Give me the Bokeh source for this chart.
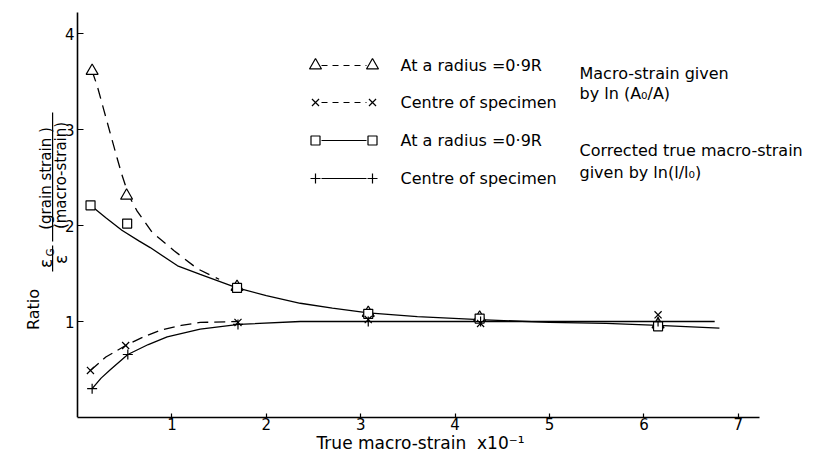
from math import pi
from bokeh.plotting import figure
from bokeh.models import Range1d, FixedTicker, Label, BoxAnnotation
from bokeh.embed import file_html
from bokeh.resources import INLINE

# ---------------- data ----------------
x_ticks = [1, 2, 3, 4, 5, 6, 7]
x_tick_labels = ["1", "2", "3", "4", "5", "6", "7"]
y_ticks = [1, 2, 3, 4]
y_tick_labels = ["1", "2", "3", "4"]

# measured points
tri_x = [0.155, 0.52, 1.69, 3.08, 4.26, 6.15]
tri_y = [3.61, 2.31, 1.36, 1.09, 1.04, 0.97]
crs_x = [0.137, 0.51, 1.70, 3.08, 4.27, 6.15]
crs_y = [0.49, 0.75, 0.99, 1.02, 0.98, 1.07]
sq_x = [0.138, 0.526, 1.69, 3.08, 4.26, 6.15]
sq_y = [2.21, 2.02, 1.35, 1.08, 1.03, 0.95]
pl_x = [0.155, 0.533, 1.70, 3.08, 4.27, 6.15]
pl_y = [0.30, 0.656, 0.97, 1.00, 1.00, 1.00]

# fitted curves
tri_curve_x = [0.155, 0.21, 0.28, 0.35, 0.42, 0.47, 0.544, 0.632, 0.79, 1.02, 1.27, 1.5]
tri_curve_y = [3.61, 3.45, 3.20, 2.95, 2.70, 2.53, 2.31, 2.15, 1.93, 1.74, 1.55, 1.44]
crs_curve_x = [0.137, 0.3, 0.51, 0.7, 0.88, 1.1, 1.3, 1.7]
crs_curve_y = [0.49, 0.63, 0.75, 0.84, 0.91, 0.96, 0.99, 1.0]
sq_curve_x = [0.138, 0.3, 0.47, 0.65, 0.77, 1.06, 1.3, 1.69, 2.0, 2.36, 2.7, 3.08,
              3.6, 4.26, 5.0, 5.6, 6.15, 6.8]
sq_curve_y = [2.21, 2.08, 1.95, 1.84, 1.77, 1.58, 1.49, 1.35, 1.27, 1.19, 1.14, 1.09,
              1.05, 1.02, 0.99, 0.98, 0.96, 0.93]
pl_curve_x = [0.155, 0.25, 0.35, 0.533, 0.75, 0.95, 1.3, 1.71, 2.36, 3.08, 4.26, 5.5, 6.75]
pl_curve_y = [0.30, 0.41, 0.50, 0.656, 0.76, 0.84, 0.92, 0.97, 1.0, 1.0, 1.0, 1.0, 1.0]

legend_labels = ["At a radius =0·9R", "Centre of specimen",
                 "At a radius =0·9R", "Centre of specimen"]
group_notes = [["Macro-strain given", "by ln (A₀/A)"],
               ["Corrected true macro-strain", "given by ln(l/l₀)"]]
x_label = "True macro-strain\u00a0\u00a0x10⁻¹"

# ---------------- figure ----------------
FONT = "DejaVu Sans"
XPX, YPX = 94.4, 96.0
X0_PX, Y0_PX = 77, 417          # page position of the data origin
LEFT, TOP = 20, 11              # frame left / top on the page
FW, FH = 800, Y0_PX - TOP

x_start = -(X0_PX - LEFT) / XPX
p = figure(frame_width=FW, frame_height=FH,
           x_range=Range1d(x_start, x_start + FW / XPX), y_range=Range1d(0, FH / YPX),
           min_border_left=LEFT, min_border_right=2, min_border_top=TOP, min_border_bottom=0,
           output_backend="svg", toolbar_location=None)
p.grid.visible = False
p.outline_line_color = None
p.background_fill_color = "white"
p.border_fill_color = "white"

for ax, ticks, labels in ((p.xaxis[0], x_ticks, x_tick_labels), (p.yaxis[0], y_ticks, y_tick_labels)):
    ax.ticker = FixedTicker(ticks=ticks)
    ax.major_label_overrides = {t: l for t, l in zip(ticks, labels)}
    ax.minor_tick_line_color = None
    ax.major_tick_out = 0
    ax.axis_line_color = "black"
    ax.axis_line_width = 1.6
    ax.major_tick_line_color = "black"
    ax.major_tick_line_width = 1.2
    ax.major_label_text_font = FONT
    ax.major_label_text_font_size = "15px"
    ax.major_label_text_color = "black"

p.yaxis.fixed_location = 0
p.xaxis.bounds = (0, 7.22)
p.yaxis.bounds = (0, 4.22)
p.xaxis.major_tick_in = 4
p.yaxis.major_tick_in = 6
p.xaxis.major_label_standoff = 0
p.yaxis.major_label_standoff = 3
p.xaxis.axis_label = x_label
p.xaxis.axis_label_text_font = FONT
p.xaxis.axis_label_text_font_size = "17px"
p.xaxis.axis_label_text_font_style = "normal"
p.xaxis.axis_label_text_color = "black"
p.xaxis.axis_label_standoff = 0

LW = 1.3
# curves
p.line(tri_curve_x, tri_curve_y, line_color="black", line_width=LW, line_dash="11 7")
p.line(crs_curve_x, crs_curve_y, line_color="black", line_width=LW, line_dash="11 6")
p.line(sq_curve_x, sq_curve_y, line_color="black", line_width=LW)
p.line(pl_curve_x, pl_curve_y, line_color="black", line_width=LW)

# markers
p.scatter(tri_x, tri_y, marker="triangle", size=12, fill_color="white", line_color="black", line_width=1.2)
p.scatter(sq_x, sq_y, marker="square", size=9, fill_color="white", line_color="black", line_width=1.2)
p.scatter(crs_x, crs_y, marker="x", size=10, line_color="black", line_width=1.2)
p.scatter(pl_x, pl_y, marker="cross", size=10, line_color="black", line_width=1.2)

# ---------------- legend (drawn) ----------------
def dx(px):
    return (px - X0_PX) / XPX

def dy(py):
    return (Y0_PX - py) / YPX

rows_py = [65, 102, 140, 178]
markers = ["triangle", "x", "square", "cross"]
msize = [12, 10, 9, 10]
dashes = ["6 5", "6 5", "solid", "solid"]
for i, py in enumerate(rows_py):
    yy = dy(py)
    p.line([dx(321), dx(366)], [yy, yy], line_color="black", line_width=1.1, line_dash=dashes[i])
    p.scatter([dx(315), dx(372)], [yy, yy], marker=markers[i], size=msize[i],
              fill_color="white", line_color="black", line_width=1.2)
    p.add_layout(Label(x=dx(400), y=yy, text=legend_labels[i], text_font=FONT,
                       text_font_size="16px", text_color="black",
                       text_align="left", text_baseline="middle"))

note_py = [[73, 93], [150, 172]]
for g in range(2):
    for j in range(2):
        p.add_layout(Label(x=dx(579), y=dy(note_py[g][j]), text=group_notes[g][j], text_font=FONT,
                           text_font_size="16px", text_color="black",
                           text_align="left", text_baseline="middle"))

# ---------------- y axis title (rotated) ----------------
def rlabel(px, py, text, size):
    p.add_layout(Label(x=dx(px), y=dy(py), text=text, angle=pi / 2, text_font=FONT,
                       text_font_size=size, text_color="black",
                       text_align="center", text_baseline="middle"))

rlabel(33, 309, "Ratio", "16px")
rlabel(45, 263, "ε", "17px")
rlabel(50, 252, "G", "10px")
rlabel(60, 259, "ε", "17px")
rlabel(45, 178, "(grain strain )", "15px")
rlabel(60, 175, "(macro-strain)", "15px")

p.add_layout(BoxAnnotation(left=dx(51.5), right=dx(52.7), bottom=dy(271), top=dy(245),
                           fill_color="black", fill_alpha=1, line_color=None))
p.add_layout(BoxAnnotation(left=dx(51.5), right=dx(52.7), bottom=dy(241), top=dy(112),
                           fill_color="black", fill_alpha=1, line_color=None))

open("out.html", "w").write(file_html(p, INLINE))
